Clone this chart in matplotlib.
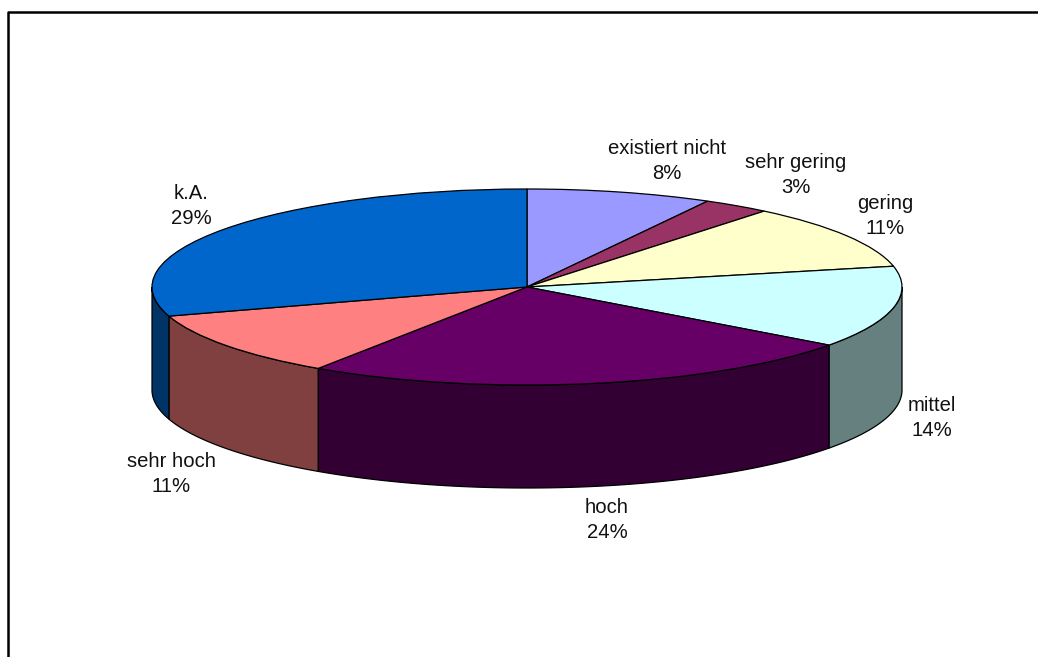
import numpy as np
import matplotlib
matplotlib.use('Agg')
import matplotlib.pyplot as plt

plt.rcParams['font.family'] = ['Liberation Sans', 'DejaVu Sans']

# Shares, clockwise from 12 o'clock
values = [8.0, 2.9, 10.7, 13.5, 24.3, 10.8, 29.8]
names = ['existiert nicht', 'sehr gering', 'gering', 'mittel', 'hoch', 'sehr hoch', 'k.A.']
labels = ['8%', '3%', '11%', '14%', '24%', '11%', '29%']
colors = ['#9999FF', '#993366', '#FFFFCC', '#CCFFFF', '#660066', '#FF8080', '#0066CC']
# label centres in pixels
label_x = [667, 796, 885, 932, 607, 171, 191]
label_y = [161, 175, 216, 418, 520, 474, 206]

W, H = 1038, 657
cx, cy = 527, 287    # pie centre
rx, ry = 375, 98     # ellipse radii
depth = 103 / ry     # wall height in pie units

fig = plt.figure(figsize=(W / 100, H / 100), dpi=100)
ax = fig.add_axes([0, 0, 1, 1])

# top face: unit pie, the axes limits squash it to an ellipse
ax.pie(values, colors=colors, startangle=90, counterclock=False,
       wedgeprops={'edgecolor': 'black', 'linewidth': 0.9})
ax.set_aspect('auto')
ax.set_xlim(-cx / rx, (W - cx) / rx)
ax.set_ylim((cy - H) / ry, cy / ry)

# side walls, only the front half of the rim shows
edges = np.cumsum([0] + values) / sum(values) * 2 * np.pi
for i in range(len(values)):
    a = max(edges[i], np.pi / 2)
    b = min(edges[i + 1], 3 * np.pi / 2)
    if a >= b:
        continue
    t = np.linspace(a, b, 100)
    x = np.sin(t)
    y = np.cos(t)
    px = np.concatenate([x, x[::-1]])
    py = np.concatenate([y, y[::-1] - depth])
    rgb = np.array(matplotlib.colors.to_rgb(colors[i])) * 0.5
    ax.fill(px, py, facecolor=rgb, edgecolor='black', linewidth=0.9, zorder=0.5)

# labels
for i in range(len(names)):
    ax.text((label_x[i] - cx) / rx, (cy - label_y[i]) / ry, names[i] + '\n' + labels[i],
            ha='center', va='center', fontsize=14.6, color='#111111', linespacing=1.38)

# chart frame, open towards right and bottom of the picture
ax.plot([(8 - cx) / rx, (8 - cx) / rx, (W + 5 - cx) / rx],
        [(cy - H - 5) / ry, (cy - 12) / ry, (cy - 12) / ry],
        color='black', linewidth=1.8, clip_on=False)

fig.savefig('out.png', dpi=100)
